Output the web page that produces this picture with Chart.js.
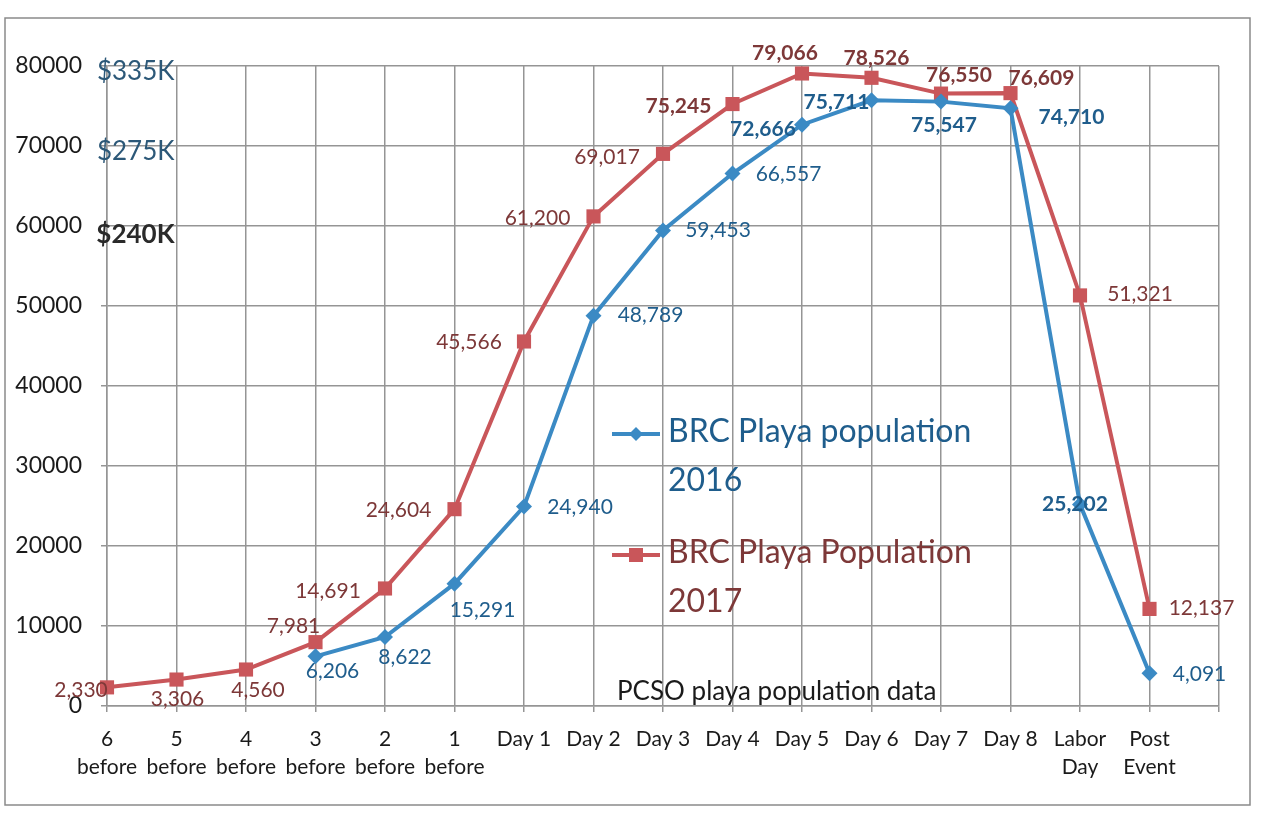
<!DOCTYPE html>
<html>
<head>
<meta charset="utf-8">
<script src="https://cdn.jsdelivr.net/npm/chart.js@4.4.0/dist/chart.umd.min.js"></script>
<style>
  html, body { margin: 0; padding: 0; background: #fff; }
  #wrap { width: 1267px; height: 816px; position: relative; }
</style>
</head>
<body>
<div id="wrap"><canvas id="popChart"></canvas></div>
<script>
// categories (last empty slot gives the extra grid column on the right)
const dayLabels = [
  ["6", "before"], ["5", "before"], ["4", "before"], ["3", "before"], ["2", "before"], ["1", "before"],
  "Day 1", "Day 2", "Day 3", "Day 4", "Day 5", "Day 6", "Day 7", "Day 8",
  ["Labor", "Day"], ["Post", "Event"], ""
];
const pop2016 = [null, null, null, 6206, 8622, 15291, 24940, 48789, 59453, 66557, 72666, 75711, 75547, 74710, 25202, 4091];
const pop2017 = [2330, 3306, 4560, 7981, 14691, 24604, 45566, 61200, 69017, 75245, 79066, 78526, 76550, 76609, 51321, 12137];
const seriesNames = ["BRC Playa population 2016", "BRC Playa Population 2017"];
const budgetValues = [80000, 70000, 60000];
const budgetLabels = ["$335K", "$275K", "$240K"];
const noteText = "PCSO playa population data";

// label placement (pixel offsets from the point) and weight
const offsets2016 = [null, null, null, [17, 15], [20, 20], [28, 27], [56, 1], [57, 0], [55, 0], [56, 1], [-39, 5], [-35, 2], [3, 24], [61, 9], [-5, 0], [50, 1]];
const bold2016 = [0, 0, 0, 0, 0, 0, 0, 0, 0, 0, 1, 1, 1, 1, 1, 0];
const offsets2017 = [[-26, 3], [1, 20], [12, 21], [-22, -16], [-57, 3], [-56, 1], [-55, 1], [-56, 2], [-56, 3], [-54, 2], [-17, -20], [5, -20], [18, -18], [31, -15], [60, -1], [52, -1]];
const bold2017 = [0, 0, 0, 0, 0, 0, 0, 0, 0, 1, 1, 1, 1, 1, 0, 0];

const FONT = "Lato, 'DejaVu Sans', sans-serif";
const BLUE = "#3b8ac4";
const RED = "#c9565a";
const BLUE_TXT = "#1f5d8c";
const RED_TXT = "#7d3838";

const pagePlugin = {
  id: "pagePlugin",
  beforeDraw(chart) {
    const ctx = chart.ctx;
    ctx.save();
    ctx.fillStyle = "#fff";
    ctx.fillRect(0, 0, chart.width, chart.height);
    ctx.strokeStyle = "#8a8a8a";
    ctx.lineWidth = 1.5;
    ctx.strokeRect(5, 18, 1245, 787);
    ctx.restore();
  },
  afterDatasetsDraw(chart) {
    const ctx = chart.ctx;
    const xs = chart.scales.x, ys = chart.scales.y;
    ctx.save();

    // value labels
    chart.data.datasets.forEach((ds, i) => {
      const meta = chart.getDatasetMeta(i);
      meta.data.forEach((pt, j) => {
        const v = ds.data[j];
        if (v == null) return;
        const off = ds.labelOffsets[j];
        ctx.font = (ds.labelBold[j] ? "bold " : "") + "21px " + FONT;
        ctx.fillStyle = ds.labelColor;
        ctx.textAlign = "center";
        ctx.textBaseline = "middle";
        ctx.fillText(v.toLocaleString("en-US"), pt.x + off[0], pt.y + off[1]);
      });
    });

    // budget notes next to the y axis
    budgetValues.forEach((v, i) => {
      ctx.font = (i === 2 ? "bold " : "") + "26px " + FONT;
      ctx.fillStyle = i === 2 ? "#2a2a2a" : "#2c5878";
      ctx.textAlign = "right";
      ctx.textBaseline = "middle";
      ctx.fillText(budgetLabels[i], xs.getPixelForValue(1) - 2, ys.getPixelForValue(v) + (i === 2 ? 9 : 6));
    });

    // source note
    ctx.font = "26px " + FONT;
    ctx.fillStyle = "#1a1a1a";
    ctx.textAlign = "left";
    ctx.textBaseline = "middle";
    ctx.fillText(noteText, 617, 692);

    // legend inside the plot
    const items = [
      { y: 434, color: BLUE, txt: BLUE_TXT, style: "diamond" },
      { y: 555, color: RED, txt: RED_TXT, style: "square" }
    ];
    items.forEach((it, k) => {
      ctx.strokeStyle = it.color;
      ctx.lineWidth = 4;
      ctx.beginPath();
      ctx.moveTo(612, it.y);
      ctx.lineTo(660, it.y);
      ctx.stroke();
      ctx.fillStyle = it.color;
      ctx.beginPath();
      if (it.style === "diamond") {
        ctx.moveTo(636, it.y - 7); ctx.lineTo(643, it.y); ctx.lineTo(636, it.y + 7); ctx.lineTo(629, it.y);
      } else {
        ctx.rect(629, it.y - 7, 14, 14);
      }
      ctx.closePath();
      ctx.fill();
      ctx.font = "32px " + FONT;
      ctx.fillStyle = it.txt;
      ctx.textAlign = "left";
      ctx.textBaseline = "middle";
      const name = chart.data.datasets[k].label;
      ctx.fillText(name.replace(/ \d{4}$/, ""), 668, it.y - 2);
      ctx.fillText(name.slice(-4), 668, it.y + 47);
    });
    ctx.restore();
  }
};

new Chart(document.getElementById("popChart"), {
  type: "line",
  data: {
    labels: dayLabels,
    datasets: [
      {
        label: seriesNames[0],
        data: pop2016,
        borderColor: BLUE,
        backgroundColor: BLUE,
        borderWidth: 4,
        pointStyle: "rectRot",
        pointRadius: 8,
        pointBorderWidth: 0,
        tension: 0,
        labelOffsets: offsets2016,
        labelBold: bold2016,
        labelColor: BLUE_TXT
      },
      {
        label: seriesNames[1],
        data: pop2017,
        borderColor: RED,
        backgroundColor: RED,
        borderWidth: 4,
        pointStyle: "rect",
        pointRadius: 10,
        pointBorderWidth: 0,
        tension: 0,
        labelOffsets: offsets2017,
        labelBold: bold2017,
        labelColor: RED_TXT
      }
    ]
  },
  options: {
    responsive: true,
    maintainAspectRatio: false,
    animation: false,
    layout: { padding: { top: 66, right: 48, left: 10, bottom: 0 } },
    plugins: {
      legend: { display: false },
      tooltip: { enabled: false }
    },
    scales: {
      x: {
        offset: false,
        grid: { color: "#959595", lineWidth: 1.5, tickLength: 6 },
        border: { color: "#959595", width: 1.5 },
        ticks: {
          color: "#1a1a1a",
          font: { family: FONT, size: 21, lineHeight: 1.3 },
          padding: 14,
          maxRotation: 0,
          autoSkip: false
        },
        afterFit(scale) { scale.height = 110; }
      },
      y: {
        min: 0,
        max: 80000,
        grid: { color: "#959595", lineWidth: 1.5, tickLength: 6 },
        border: { color: "#959595", width: 1.5 },
        ticks: {
          stepSize: 10000,
          color: "#1a1a1a",
          font: { family: FONT, size: 23 },
          padding: 19,
          callback: (v) => String(v)
        },
        afterFit(scale) { scale.width = 97; }
      }
    }
  },
  plugins: [pagePlugin]
});
</script>
</body>
</html>
